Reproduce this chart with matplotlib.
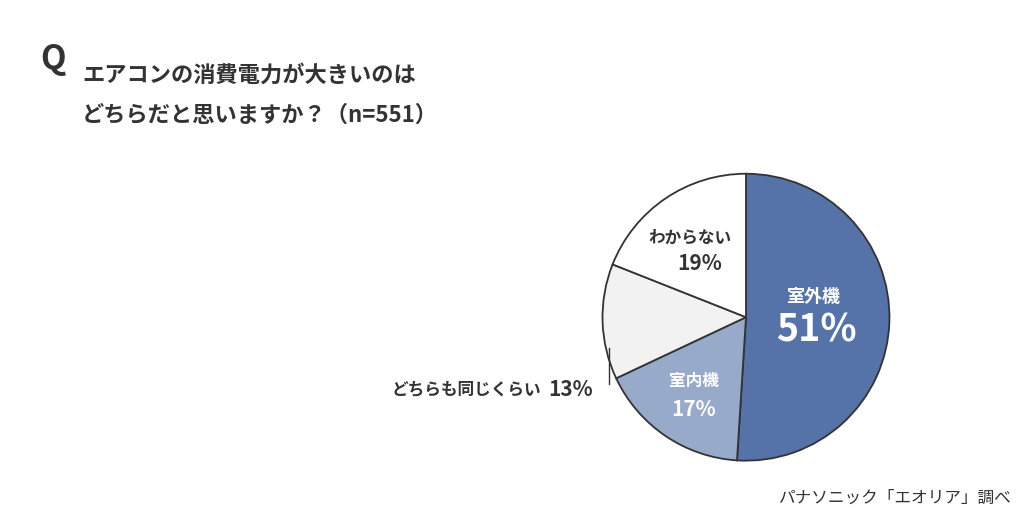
import matplotlib
matplotlib.use("Agg")
import matplotlib.pyplot as plt

plt.rcParams['font.family'] = ['Noto Sans CJK JP', 'DejaVu Sans']

labels = ['室外機', '室内機', 'どちらも同じくらい', 'わからない']
values = [51, 17, 13, 19]
colors = ['#5573a8', '#97aaca', '#f2f2f2', '#ffffff']

W, H = 1024, 520
fig = plt.figure(figsize=(W / 100, H / 100), dpi=100)

def px(x, y):
    return x / W, 1 - y / H

ax = fig.add_axes([0.587, 0.111, 0.283, 0.558])
ax.pie(values, colors=colors, startangle=90, counterclock=False,
       wedgeprops=dict(edgecolor='#333333', linewidth=1.3))
ax.set_xlim(-1.01, 1.01)
ax.set_ylim(-1.01, 1.01)
ax.set_aspect('equal')

txt = '#333333'
fig.text(*px(40, 60), 'Q', fontsize=24, fontweight='bold', color=txt, va='center')
fig.text(*px(82, 75), 'エアコンの消費電力が大きいのは', fontsize=16, fontweight='bold', color=txt, va='center')
fig.text(*px(82, 115), 'どちらだと思いますか？（n=551）', fontsize=16, fontweight='bold', color=txt, va='center')

fig.text(*px(814, 296), labels[0], fontsize=13, fontweight='bold', color='white', ha='center', va='center')
fig.text(*px(816, 330), f'{values[0]}%', fontsize=27, fontweight='bold', color='white', ha='center', va='center')
fig.text(*px(694, 381), labels[1], fontsize=12, fontweight='bold', color='white', ha='center', va='center')
fig.text(*px(694, 410), f'{values[1]}%', fontsize=15, fontweight='bold', color='white', ha='center', va='center')
fig.text(*px(690, 238), labels[3], fontsize=12, fontweight='bold', color=txt, ha='center', va='center')
fig.text(*px(700, 263), f'{values[3]}%', fontsize=15, fontweight='bold', color=txt, ha='center', va='center')

fig.text(*px(541, 389), labels[2], fontsize=12, fontweight='bold', color=txt, ha='right', va='center')
fig.text(*px(593, 389), f'{values[2]}%', fontsize=15, fontweight='bold', color=txt, ha='right', va='center')
fig.add_artist(plt.Line2D([609 / W, 609 / W], [1 - 348 / H, 1 - 384 / H], color='#333333', lw=1))

fig.text(*px(1012, 498), 'パナソニック「エオリア」調べ', fontsize=12, color=txt, ha='right', va='center')

fig.savefig('out.png', dpi=100)
